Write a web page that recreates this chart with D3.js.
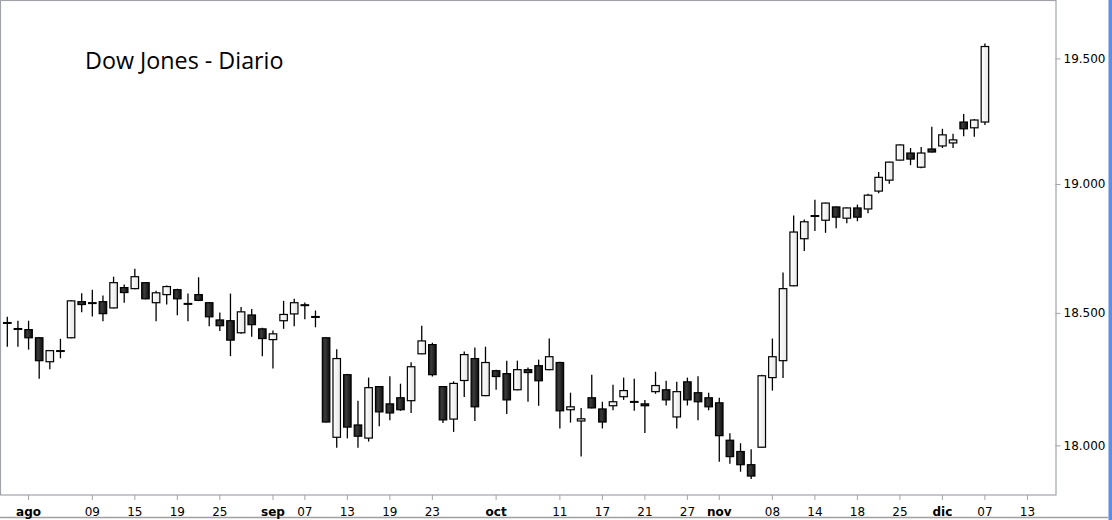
<!DOCTYPE html>
<html>
<head>
<meta charset="utf-8">
<script src="https://cdn.jsdelivr.net/npm/d3@7"></script>
<style>
  body { margin: 0; background: #fff; }
  text { font-family: "DejaVu Sans", sans-serif; }
</style>
</head>
<body>
<script>
// trading days with data
var dates = ["2016-07-28","2016-07-29","2016-08-01","2016-08-02","2016-08-03","2016-08-04","2016-08-05","2016-08-08","2016-08-09","2016-08-10",
  "2016-08-11","2016-08-12","2016-08-15","2016-08-16","2016-08-17","2016-08-18","2016-08-19","2016-08-22","2016-08-23","2016-08-24",
  "2016-08-25","2016-08-26","2016-08-29","2016-08-30","2016-08-31","2016-09-01","2016-09-02","2016-09-06","2016-09-07","2016-09-08",
  "2016-09-09","2016-09-12","2016-09-13","2016-09-14","2016-09-15","2016-09-16","2016-09-19","2016-09-20","2016-09-21","2016-09-22",
  "2016-09-23","2016-09-26","2016-09-27","2016-09-28","2016-09-29","2016-09-30","2016-10-03","2016-10-04","2016-10-05","2016-10-06",
  "2016-10-07","2016-10-10","2016-10-11","2016-10-12","2016-10-13","2016-10-14","2016-10-17","2016-10-18","2016-10-19","2016-10-20",
  "2016-10-21","2016-10-24","2016-10-25","2016-10-26","2016-10-27","2016-10-28","2016-10-31","2016-11-01","2016-11-02","2016-11-03",
  "2016-11-04","2016-11-07","2016-11-08","2016-11-09","2016-11-10","2016-11-11","2016-11-14","2016-11-15","2016-11-16","2016-11-17",
  "2016-11-18","2016-11-21","2016-11-22","2016-11-23","2016-11-25","2016-11-28","2016-11-29","2016-11-30","2016-12-01","2016-12-02",
  "2016-12-05","2016-12-06","2016-12-07"];
// empty trading days still shown on the axis
var futureDates = ["2016-12-08","2016-12-09","2016-12-12","2016-12-13","2016-12-14","2016-12-15"];

var opens = [18463,18440,18436,18405,18314,18356,18405,18543,18539,18543,
  18519,18597,18593,18616,18539,18570,18589,18536,18570,18539,
  18473,18470,18424,18492,18439,18398,18470,18496,18531,18486,
  18405,18030,18265,18076,18027,18220,18155,18178,18167,18344,
  18379,18220,18098,18243,18326,18186,18280,18269,18208,18284,
  18299,18284,18311,18133,18091,18178,18136,18148,18182,18164,
  18155,18201,18208,18106,18238,18197,18178,18159,18019,17977,
  17928,17993,18254,18318,18604,18786,18876,18858,18910,18866,
  18906,18902,18972,19015,19094,19122,19066,19138,19150,19162,
  19245,19222,19245];
var highs = [18485,18470,18470,18408,18358,18401,18548,18575,18589,18567,
  18639,18609,18670,18618,18585,18605,18593,18574,18637,18541,
  18501,18574,18523,18515,18443,18433,18546,18554,18540,18509,
  18407,18361,18268,18167,18254,18222,18259,18231,18312,18451,
  18386,18222,18240,18353,18368,18371,18284,18318,18318,18292,
  18322,18402,18314,18197,18140,18265,18163,18227,18254,18250,
  18170,18276,18242,18238,18254,18259,18197,18178,18045,18008,
  17985,18265,18402,18655,18876,18861,18938,18927,18912,18908,
  18919,18962,19047,19088,19156,19142,19146,19226,19218,19198,
  19277,19257,19560];
var lows = [18371,18371,18360,18250,18286,18327,18403,18502,18486,18468,
  18517,18539,18591,18552,18468,18532,18491,18468,18545,18449,
  18431,18335,18420,18409,18335,18288,18439,18449,18476,18445,
  18085,17991,18026,17991,18014,18071,18094,18129,18121,18342,
  18258,18083,18050,18181,18091,18184,18208,18117,18206,18163,
  18148,18282,18063,18085,17958,18138,18063,18131,18170,18129,
  18046,18193,18149,18063,18149,18094,18131,17939,17932,17902,
  17875,17991,18205,18252,18602,18738,18816,18809,18827,18846,
  18854,18885,18964,19001,19092,19074,19062,19124,19142,19142,
  19188,19186,19233];
var closes = [18461,18438,18405,18318,18356,18354,18546,18532,18537,18497,
  18616,18578,18639,18554,18577,18601,18554,18534,18548,18485,
  18451,18396,18504,18455,18402,18420,18494,18539,18529,18484,
  18087,18326,18068,18034,18216,18125,18121,18133,18295,18393,
  18265,18095,18232,18341,18144,18311,18258,18170,18284,18273,
  18242,18333,18129,18144,18099,18140,18087,18163,18205,18162,
  18148,18224,18170,18201,18170,18163,18144,18036,17958,17928,
  17886,18261,18333,18593,18812,18852,18874,18925,18870,18906,
  18870,18956,19026,19086,19154,19098,19122,19126,19194,19174,
  19218,19253,19548];

var tickDates = ["2016-08-01","2016-08-09","2016-08-15","2016-08-19","2016-08-25","2016-09-01","2016-09-07","2016-09-13",
  "2016-09-19","2016-09-23","2016-10-03","2016-10-11","2016-10-17","2016-10-21","2016-10-27","2016-11-01","2016-11-08",
  "2016-11-14","2016-11-18","2016-11-25","2016-12-01","2016-12-07","2016-12-13"];
var tickLabels = ["ago","09","15","19","25","sep","07","13","19","23","oct","11","17","21","27","nov","08","14","18","25","dic","07","13"];
var yTicks = [18000, 18500, 19000, 19500];

var W = 1112, H = 520;
var plotW = 1055.5, plotH = 495;

var svg = d3.select("body").append("svg").attr("width", W).attr("height", H);

var defs = svg.append("defs");
var gBlack = defs.append("linearGradient").attr("id", "gBlack");
gBlack.append("stop").attr("offset", "0%").attr("stop-color", "#151515");
gBlack.append("stop").attr("offset", "35%").attr("stop-color", "#3c3c3c");
gBlack.append("stop").attr("offset", "100%").attr("stop-color", "#0c0c0c");
var gWhite = defs.append("linearGradient").attr("id", "gWhite");
gWhite.append("stop").attr("offset", "0%").attr("stop-color", "#ffffff");
gWhite.append("stop").attr("offset", "100%").attr("stop-color", "#e6e6e6");

// outer window edges
svg.append("line").attr("x1", 0).attr("x2", 1108).attr("y1", 517.5).attr("y2", 517.5)
  .attr("stroke", "#a0a0a0").attr("stroke-width", 1.5);
svg.append("rect").attr("x", 1108.5).attr("y", 0).attr("width", 3.5).attr("height", H).attr("fill", "#5b8ee8");

var x = d3.scaleBand().domain(dates.concat(futureDates)).range([2, 1054]);
var y = d3.scaleLog().domain([17816, 19737]).range([plotH, 0]);
var cx = function(d) { return x(d) + x.bandwidth() / 2; };

// plot frame
svg.append("rect").attr("x", 0.5).attr("y", 0.5).attr("width", plotW).attr("height", plotH - 0.5)
  .attr("fill", "none").attr("stroke", "#a0a4a8").attr("stroke-width", 1.2);

svg.append("text").attr("x", 85).attr("y", 69)
  .style("font-family", "'Open Sans', sans-serif").style("font-size", "23.3px").attr("fill", "#000")
  .text("Dow Jones - Diario");

// y axis on the right
var loc = d3.formatLocale({decimal: ",", thousands: ".", grouping: [3], currency: ["", ""]});
var yAxis = d3.axisRight(y).tickValues(yTicks).tickFormat(loc.format(",")).tickSize(5).tickPadding(3);
var ya = svg.append("g").attr("transform", "translate(" + plotW + ",0)").call(yAxis);
ya.select(".domain").remove();
ya.selectAll(".tick line").attr("stroke", "#a0a4a8");
ya.selectAll(".tick text").style("font-family", "'DejaVu Sans', sans-serif").style("font-size", "12px").attr("fill", "#000");

// x axis at the bottom
var xAxis = d3.axisBottom(x).tickValues(tickDates)
  .tickFormat(function(d) { return tickLabels[tickDates.indexOf(d)]; }).tickSize(5).tickPadding(7);
var xa = svg.append("g").attr("transform", "translate(0," + plotH + ")").call(xAxis);
xa.select(".domain").remove();
xa.selectAll(".tick line").attr("stroke", "#a0a4a8");
xa.selectAll(".tick text").style("font-family", "'DejaVu Sans', sans-serif").style("font-size", "12px").attr("fill", "#000")
  .style("font-weight", function(d) { return isNaN(+tickLabels[tickDates.indexOf(d)]) ? "bold" : "normal"; });

// candles
var bodyW = 7.5;
var candles = svg.append("g");
for (var i = 0; i < dates.length; i++) {
  var up = closes[i] > opens[i];
  var xc = cx(dates[i]);
  var yTop = y(Math.max(opens[i], closes[i]));
  var yBot = y(Math.min(opens[i], closes[i]));
  candles.append("line")
    .attr("x1", xc).attr("x2", xc)
    .attr("y1", y(highs[i])).attr("y2", y(lows[i]))
    .attr("stroke", "#000").attr("stroke-width", 1.3);
  candles.append("rect")
    .attr("x", xc - bodyW / 2)
    .attr("y", yTop)
    .attr("width", bodyW)
    .attr("height", Math.max(yBot - yTop, 0.8))
    .attr("fill", up ? "url(#gWhite)" : "url(#gBlack)")
    .attr("stroke", "#000")
    .attr("stroke-width", 1.2);
}
</script>
</body>
</html>
